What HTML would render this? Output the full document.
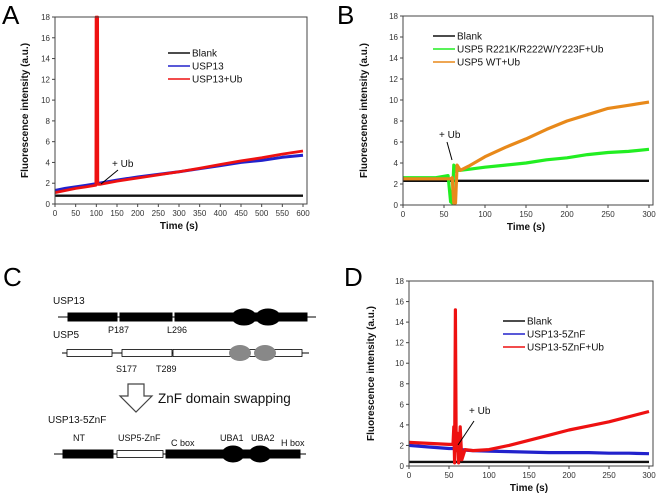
<!DOCTYPE html>
<html><head><meta charset="utf-8"><style>
html,body{margin:0;padding:0;background:#fff}
svg{display:block;font-family:"Liberation Sans",Arial,sans-serif}
.t{font-size:8px;fill:#333}
.at{font-size:10px;font-weight:bold;fill:#111}
.lg{font-size:10px;fill:#111}
.pl{font-size:26px;fill:#000}
.d{font-size:9px;fill:#111}
</style></head><body>
<svg id="fig" width="661" height="497" viewBox="0 0 661 497">
<text class="pl" x="2" y="24">A</text>
<text class="pl" x="337" y="24">B</text>
<text class="pl" x="3" y="286">C</text>
<text class="pl" x="344" y="286">D</text>

<g stroke="#000">
<text class="lg" x="53" y="304" stroke="none">USP13</text>
<line x1="58" y1="317" x2="316" y2="317" stroke-width="1"/>
<rect x="68" y="313" width="49" height="8" fill="#000"/>
<rect x="120" y="313" width="52" height="8" fill="#000"/>
<rect x="175" y="313" width="132" height="8" fill="#000"/>
<ellipse cx="244" cy="317" rx="12" ry="8" fill="#000"/>
<ellipse cx="268" cy="317" rx="12" ry="8" fill="#000"/>
<text class="d" x="108" y="333" stroke="none">P187</text>
<text class="d" x="167" y="333" stroke="none">L296</text>
<text class="lg" x="53" y="338" stroke="none">USP5</text>
<line x1="62" y1="353" x2="309" y2="353" stroke-width="1"/>
<rect x="67" y="349.5" width="45" height="7" fill="#fff" stroke-width="0.8"/>
<rect x="122" y="349.5" width="50" height="7" fill="#fff" stroke-width="0.8"/>
<rect x="173" y="349.5" width="129" height="7" fill="#fff" stroke-width="0.8"/>
<ellipse cx="240" cy="353" rx="11" ry="8" fill="#888" stroke="none"/>
<ellipse cx="265" cy="353" rx="11" ry="8" fill="#888" stroke="none"/>
<text class="d" x="116" y="372" stroke="none">S177</text>
<text class="d" x="156" y="372" stroke="none">T289</text>
<polygon points="128,384 144,384 144,396 152,396 136,412 120,396 128,396" fill="#fff" stroke="#444" stroke-width="1.2"/>
<text x="158" y="403" stroke="none" style="font-size:13.5px;fill:#111">ZnF domain swapping</text>
<text class="lg" x="48" y="423" stroke="none">USP13-5ZnF</text>
<text class="d" x="73" y="441" stroke="none">NT</text>
<text class="d" x="118" y="441" stroke="none">USP5-ZnF</text>
<text class="d" x="171" y="446" stroke="none">C box</text>
<text class="d" x="220" y="441" stroke="none">UBA1</text>
<text class="d" x="251" y="441" stroke="none">UBA2</text>
<text class="d" x="281" y="446" stroke="none">H box</text>
<line x1="54" y1="454" x2="306" y2="454" stroke-width="1"/>
<rect x="63" y="450" width="50" height="8" fill="#000"/>
<rect x="117" y="450.5" width="46" height="7" fill="#fff" stroke-width="0.8"/>
<rect x="166" y="450" width="134" height="8" fill="#000"/>
<ellipse cx="233" cy="454" rx="11" ry="8" fill="#000"/>
<ellipse cx="260" cy="454" rx="11" ry="8" fill="#000"/>
</g>
</svg>
<script>
const aTime = [0,25,50,75,99,99.5,100,101,102,103,103.5,110,150,200,250,300,350,400,450,500,550,600];
const aBlank = [0.8,0.8,0.8,0.8,0.8,0.8,0.8,0.8,0.8,0.8,0.8,0.8,0.8,0.8,0.8,0.8,0.8,0.8,0.8,0.8,0.8,0.8];
const aUsp13 = [1.3,1.5,1.65,1.8,1.95,1.95,2.0,2.0,2.0,2.0,2.0,2.02,2.3,2.6,2.85,3.1,3.4,3.7,4.0,4.2,4.5,4.7];
const aUsp13Ub = [1.1,1.3,1.5,1.65,1.8,18,9,1.9,9,18,1.9,1.9,2.2,2.5,2.8,3.1,3.45,3.8,4.15,4.45,4.8,5.1];
const bTime = [0,20,40,55,58,60,62,64,66,70,80,100,125,150,175,200,225,250,275,300];
const bBlank = [2.3,2.3,2.3,2.3,2.3,2.3,2.3,2.3,2.3,2.3,2.3,2.3,2.3,2.3,2.3,2.3,2.3,2.3,2.3,2.3];
const bMutant = [2.6,2.6,2.6,2.8,0.3,0.2,3.8,3.2,3.3,3.3,3.4,3.6,3.8,4.0,4.3,4.5,4.8,5.0,5.1,5.3];
const bWT = [2.5,2.5,2.5,2.5,2.5,2.6,0.2,0.2,3.8,3.3,3.7,4.6,5.5,6.3,7.2,8.0,8.6,9.2,9.5,9.8];
const dTime = [0,25,50,55,56,57,58,59,60,62,64,66,70,80,100,125,150,175,200,225,250,275,300];
const dBlank = [0.4,0.4,0.4,0.4,0.4,0.4,0.4,0.4,0.4,0.4,0.4,0.4,0.4,0.4,0.4,0.4,0.4,0.4,0.4,0.4,0.4,0.4,0.4];
const dZnF = [2.0,1.85,1.7,1.7,1.7,1.7,1.65,1.65,1.6,1.6,1.6,1.6,1.55,1.5,1.45,1.4,1.35,1.3,1.3,1.3,1.25,1.25,1.2];
const dZnFUb = [2.3,2.2,2.1,2.1,3.8,0.3,15.2,1.5,3.2,0.3,3.8,0.6,1.6,1.5,1.6,2.0,2.5,3.0,3.5,3.9,4.3,4.8,5.3];
const yTicks = [0,2,4,6,8,10,12,14,16,18];
const aXTicks = [0,50,100,150,200,250,300,350,400,450,500,550,600];
const bXTicks = [0,50,100,150,200,250,300];

const NS='http://www.w3.org/2000/svg';
const svg=document.getElementById('fig');
function mk(tag,attrs,parent){const e=document.createElementNS(NS,tag);for(const k in attrs)e.setAttribute(k,attrs[k]);(parent||svg).appendChild(e);return e;}

function panel(p){
  const g=mk('g',{});
  
  
  const xs=v=>p.x0+(v-p.xmin)/(p.xmax-p.xmin)*(p.x1-p.x0);
  const ys=v=>p.y0-(v/18)*(p.y0-p.y1);
  p.series.forEach(s=>{
    const pts=s.t.map((t,i)=>xs(t).toFixed(1)+','+ys(s.v[i]).toFixed(1)).join(' ');
    const pl=mk('polyline',{points:pts,fill:'none',stroke:s.color,'stroke-width':s.w||3,'stroke-linejoin':'round'},g);
    
    
  });
  const fr=mk('rect',{x:p.x0,y:p.y1,width:p.bx-p.x0,height:p.y0-p.y1,fill:'none',stroke:'#444','stroke-width':1},g);
  
  
  yTicks.forEach(v=>{
    const y=ys(v);
    mk('line',{x1:p.x0-3,x2:p.x0,y1:y,y2:y,stroke:'#444'},g);
    const t=mk('text',{x:p.x0-5,y:y+3,'text-anchor':'end',class:'t'},g);t.textContent=v;
    
    
  });
  p.xt.forEach(v=>{
    const x=xs(v);
    mk('line',{x1:x,x2:x,y1:p.y0,y2:p.y0+3,stroke:'#444'},g);
    const t=mk('text',{x:x,y:p.y0+12,'text-anchor':'middle',class:'t'},g);t.textContent=v;
    
    
  });
  const xt=mk('text',{x:(p.x0+p.x1)/2,y:p.y0+25,'text-anchor':'middle',class:'at'},g);xt.textContent='Time (s)';
  
  
  const cy=(p.y0+p.y1)/2;
  const yt=mk('text',{x:p.ytx,y:cy,'text-anchor':'middle',class:'at',transform:`rotate(-90 ${p.ytx} ${cy})`},g);yt.textContent='Fluorescence intensity (a.u.)';
  
  
  p.series.forEach((s,i)=>{
    const y=p.ly+i*13;
    mk('line',{x1:p.lx,x2:p.lx+22,y1:y,y2:y,stroke:s.color,'stroke-width':1.5},g);
    const t=mk('text',{x:p.lx+24,y:y+3.5,class:'lg'},g);t.textContent=s.label;
    
    
  });
  const a=mk('text',{x:p.ann[0],y:p.ann[1],class:'lg'},g);a.textContent='+ Ub';
  
  
  mk('line',{x1:p.ann[2],y1:p.ann[3],x2:p.ann[4],y2:p.ann[5],stroke:'#000','stroke-width':1},g);
}

panel({name:'chart-a',x0:55,x1:303,bx:307,y0:204,y1:17,xmin:0,xmax:600,xt:aXTicks,ytx:28,lx:168,ly:53,ann:[112,167,118,170,101,184],
  series:[{key:'series-blank',label:'Blank',color:'#111',t:aTime,v:aBlank,w:2.4},
          {key:'series-usp13',label:'USP13',color:'#2222cc',t:aTime,v:aUsp13,w:3},
          {key:'series-usp13-ub',label:'USP13+Ub',color:'#ee1111',t:aTime,v:aUsp13Ub,w:2.8}]});
panel({name:'chart-b',x0:403,x1:649,bx:653,y0:205,y1:16,xmin:0,xmax:300,xt:bXTicks,ytx:367,lx:433,ly:36,ann:[439,138,447,142,452,160],
  series:[{key:'series-blank',label:'Blank',color:'#111',t:bTime,v:bBlank,w:2.4},
          {key:'series-usp5-mutant',label:'USP5 R221K/R222W/Y223F+Ub',color:'#22ee22',t:bTime,v:bMutant,w:3.2},
          {key:'series-usp5-wt',label:'USP5 WT+Ub',color:'#e8891a',t:bTime,v:bWT,w:3.2}]});
panel({name:'chart-d',x0:409,x1:649,bx:653,y0:466,y1:281,xmin:0,xmax:300,xt:bXTicks,ytx:374,lx:503,ly:321,ann:[469,414,474,421,458,445],
  series:[{key:'series-blank',label:'Blank',color:'#111',t:dTime,v:dBlank,w:2.4},
          {key:'series-usp13-5znf',label:'USP13-5ZnF',color:'#2222cc',t:dTime,v:dZnF,w:3.2},
          {key:'series-usp13-5znf-ub',label:'USP13-5ZnF+Ub',color:'#ee1111',t:dTime,v:dZnFUb,w:3.2}]});
</script>
</body></html>
